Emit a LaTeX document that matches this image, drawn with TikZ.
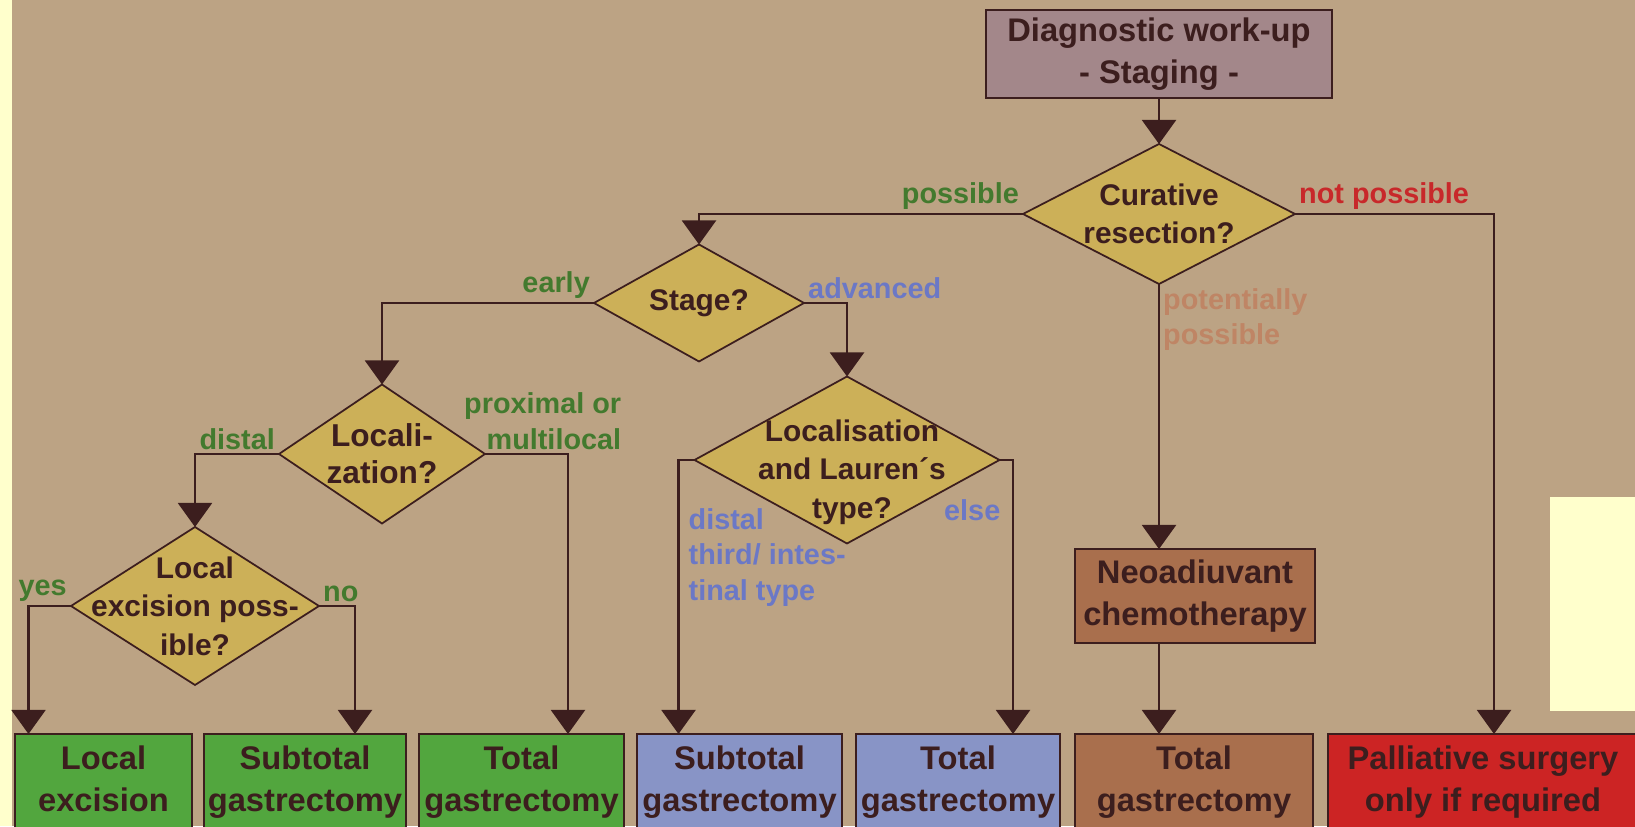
\documentclass[tikz,border=0pt]{standalone}
\usepackage{fontspec}
\setmainfont{Liberation Sans}
\usepackage{xcolor}
\usetikzlibrary{arrows.meta,shapes.geometric}
\definecolor{bgc}{HTML}{BCA384}
\definecolor{pale}{HTML}{FFFFCC}
\definecolor{ink}{HTML}{3C1E1E}
\definecolor{diac}{HTML}{CCB058}
\definecolor{mauve}{HTML}{A3878A}
\definecolor{grn}{HTML}{52A63E}
\definecolor{blu}{HTML}{8894C6}
\definecolor{brn}{HTML}{A96F4D}
\definecolor{redb}{HTML}{CC2424}
\definecolor{glab}{HTML}{437A2E}
\definecolor{blab}{HTML}{6B78C6}
\definecolor{rlab}{HTML}{C8282A}
\definecolor{plab}{HTML}{BF8565}
\tikzset{
  dec/.style={diamond,draw=ink,line width=0.5pt,fill=diac,inner sep=0pt,outer sep=0pt},
  dtx/.style={text=ink,align=center,inner sep=0pt,font=\fontsize{8.5}{11}\selectfont\bfseries},
  box/.style={rectangle,draw=ink,line width=0.6pt,text=ink,align=center,inner sep=0pt,outer sep=0pt,font=\fontsize{9.3}{12}\selectfont\bfseries},
  res/.style={box,minimum height=0.96cm,anchor=north},
  lnk/.style={draw=ink,line width=0.6pt,-{Triangle[length=2.4mm,width=3.4mm]}},
  lb/.style={inner sep=1pt,align=left,font=\fontsize{8.2}{10.2}\selectfont\bfseries}
}
\newcommand{\decide}[6][]{\node[dec,minimum width=#4cm,minimum height=#5cm] (#2) at (#3) {};
  \node[dtx,#1] (#2t) at (#2) {#6};}

\begin{document}
\begin{tikzpicture}
\useasboundingbox (0,0) rectangle (16.35,8.26);
\fill[bgc] (0,0) rectangle (16.35,8.26);
\fill[pale] (0,0) rectangle (0.12,8.26);
\fill[pale] (15.50,1.15) rectangle (16.35,3.29);

\node[box,fill=mauve,minimum width=3.46cm,minimum height=0.88cm] (diag) at (11.59,7.72) {Diagnostic work-up\\- Staging -};
\decide{cur}{11.59,6.12}{2.72}{1.40}{Curative\\resection?}
\decide{stg}{6.99,5.23}{2.10}{1.17}{Stage?}
\decide[font=\fontsize{9}{10.5}\selectfont\bfseries]{loc}{3.82,3.72}{2.06}{1.39}{Locali-\\zation?}
\decide{exc}{1.95,2.20}{2.48}{1.58}{Local\\excision poss-\\ible?}
\decide[xshift=0.05cm,yshift=-0.12cm]{lau}{8.47,3.66}{3.05}{1.67}{Localisation\\and Lauren´s\\type?}
\node[box,fill=brn,minimum width=2.40cm,minimum height=0.94cm] (neo) at (11.95,2.30) {Neoadiuvant\\chemotherapy};

\node[res,fill=grn,minimum width=1.77cm] (lex) at (1.035,0.92) {Local\\excision\vphantom{gy}};
\node[res,fill=grn,minimum width=2.02cm] (sgg) at (3.05,0.92) {Subtotal\\gastrectomy};
\node[res,fill=grn,minimum width=2.05cm] (tgg) at (5.215,0.92) {Total\\gastrectomy};
\node[res,fill=blu,minimum width=2.05cm] (sgb) at (7.395,0.92) {Subtotal\\gastrectomy};
\node[res,fill=blu,minimum width=2.04cm] (tgb) at (9.58,0.92) {Total\\gastrectomy};
\node[res,fill=brn,minimum width=2.38cm] (tgr) at (11.94,0.92) {Total\\gastrectomy};
\node[res,fill=redb,minimum width=3.10cm] (pal) at (14.83,0.92) {Palliative surgery\\only if required};

\draw[lnk] (diag.south) -- (cur.north);
\draw[lnk] (cur.west) -| (stg.north);
\draw[lnk] (cur.east) -| ([xshift=1.1mm]pal.north);
\draw[lnk] (cur.south) -- (neo.north -| cur.south);
\draw[lnk] (neo.south -| cur.south) -- (tgr.north -| cur.south);
\draw[lnk] (stg.west) -| (loc.north);
\draw[lnk] (stg.east) -| (lau.north);
\draw[lnk] (loc.west) -| (exc.north);
\draw[lnk] (loc.east) -| ([xshift=4.65mm]tgg.north);
\draw[lnk] (exc.west) -| ([xshift=-7.5mm]lex.north);
\draw[lnk] (exc.east) -| ([xshift=5mm]sgg.north);
\draw[lnk] (lau.west) -| ([xshift=-6.1mm]sgb.north);
\draw[lnk] (lau.east) -| ([xshift=5.5mm]tgb.north);

\node[lb,text=glab,anchor=south east] (lpos) at (cur.west) {possible};
\node[lb,text=rlab,anchor=south west] (lnot) at (cur.east) {not possible};
\node[lb,text=plab,anchor=north west] (lpot) at (cur.south) {potentially\\possible};
\node[lb,text=glab,anchor=south east] (lear) at (stg.west) {early};
\node[lb,text=blab,anchor=south west] (ladv) at (stg.east) {advanced};
\node[lb,text=glab,anchor=south east] (ldis) at (loc.west) {distal};
\node[lb,text=glab,anchor=south west,align=right] (lprx) at ([xshift=-2.5mm]loc.east) {proximal or\\multilocal};
\node[lb,text=glab,anchor=south east] (lyes) at (exc.west) {yes};
\node[lb,text=glab,anchor=south west] (lno) at (exc.east) {no};
\node[lb,text=blab,anchor=north west] (ldt) at ([xshift=-1mm,yshift=-4.4mm]lau.west) {distal\\third/ intes-\\tinal type};
\node[lb,text=blab,anchor=north east] (lels) at ([xshift=0.5mm,yshift=-3.5mm]lau.east) {else};
\end{tikzpicture}
\end{document}
